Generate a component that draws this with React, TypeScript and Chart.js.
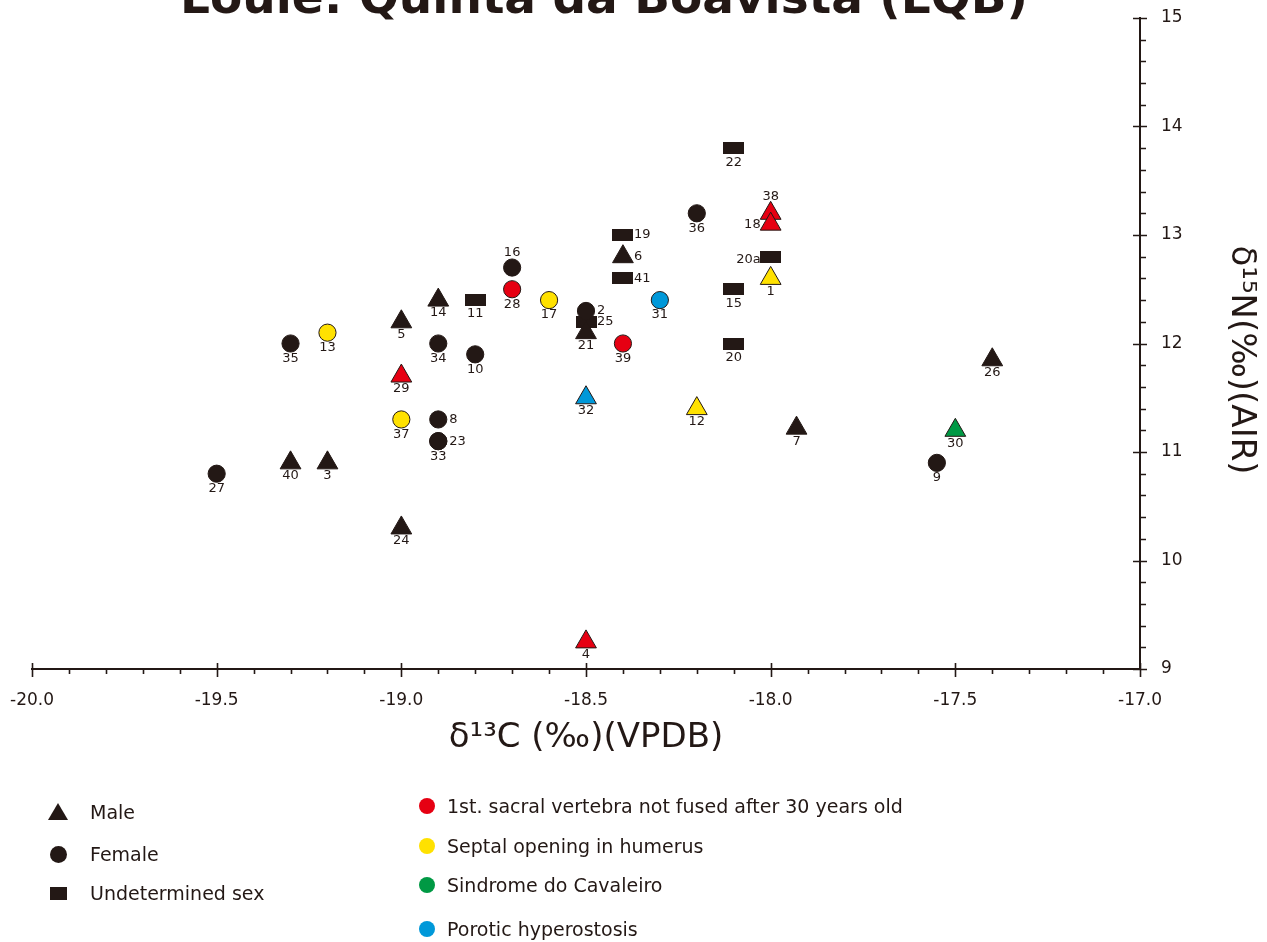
import React, { useEffect, useRef } from 'react';
import { Chart, registerables } from 'chart.js';

Chart.register(...registerables);

const INK = '#231815';
const FONT = '"DejaVu Sans", Verdana, sans-serif';

const titleText = 'Loulé: Quinta da Boavista (LQB)';
const xTitle = 'δ¹³C (‰)(VPDB)';
const yTitle = 'δ¹⁵N(‰)(AIR)';

// Individuals
const ids = ['27', '40', '3', '35', '13', '5', '29', '37', '24', '14', '34', '8', '23', '33', '11', '10', '16', '28', '17', '2', '25', '21', '4', '32', '19', '6', '41', '39', '31', '36', '12', '22', '15', '20', '38', '18', '20a', '1', '7', '9', '30', '26'];
const d13C = [-19.5, -19.3, -19.2, -19.3, -19.2, -19.0, -19.0, -19.0, -19.0, -18.9, -18.9, -18.9, -18.9, -18.9, -18.8, -18.8, -18.7, -18.7, -18.6, -18.5, -18.5, -18.5, -18.5, -18.5, -18.4, -18.4, -18.4, -18.4, -18.3, -18.2, -18.2, -18.1, -18.1, -18.1, -18.0, -18.0, -18.0, -18.0, -17.93, -17.55, -17.5, -17.4];
const d15N = [10.8, 10.9, 10.9, 12.0, 12.1, 12.2, 11.7, 11.3, 10.3, 12.4, 12.0, 11.3, 11.1, 11.1, 12.4, 11.9, 12.7, 12.5, 12.4, 12.3, 12.2, 12.1, 9.25, 11.5, 13.0, 12.8, 12.6, 12.0, 12.4, 13.2, 11.4, 13.8, 12.5, 12.0, 13.2, 13.1, 12.8, 12.6, 11.22, 10.9, 11.2, 11.85];
// M = male, F = female, U = undetermined
const sex = ['F', 'M', 'M', 'F', 'F', 'M', 'M', 'F', 'M', 'M', 'F', 'F', 'F', 'F', 'U', 'F', 'F', 'F', 'F', 'F', 'U', 'M', 'M', 'M', 'U', 'M', 'U', 'F', 'F', 'F', 'M', 'U', 'U', 'U', 'M', 'M', 'U', 'M', 'M', 'F', 'M', 'M'];
// '' none, S sacral, H humerus septal opening, C cavaleiro, P porotic hyperostosis
const condition = ['', '', '', '', 'H', '', 'S', 'H', '', '', '', '', '', '', '', '', '', 'S', 'H', '', '', '', 'S', 'P', '', '', '', 'S', 'P', '', 'H', '', '', '', 'S', 'S', '', 'H', '', '', 'C', ''];
// label side: b below, t top, r right, l left
const labelSide = ['b', 'b', 'b', 'b', 'b', 'b', 'b', 'b', 'b', 'b', 'b', 'r', 'r', 'b', 'b', 'b', 't', 'b', 'b', 'r', 'r', 'b', 'b', 'b', 'r', 'r', 'r', 'b', 'b', 'b', 'b', 'b', 'b', 'b', 't', 'l', 'l', 'b', 'b', 'b', 'b', 'b'];

const sexGroups = ['M', 'F', 'U'];
const sexNames = ['Male', 'Female', 'Undetermined sex'];
const conditionKeys = ['S', 'H', 'C', 'P'];
const conditionNames = ['1st. sacral vertebra not fused after 30 years old', 'Septal opening in humerus', 'Sindrome do Cavaleiro', 'Porotic hyperostosis'];
const conditionColors = ['#e60012', '#ffe100', '#009944', '#0098d9'];

const xMin = -20, xMax = -17, yMin = 9, yMax = 15;

function colorFor(c: string) {
  const k = conditionKeys.indexOf(c);
  return k >= 0 ? conditionColors[k] : INK;
}

function makeRectImage() {
  const c = document.createElement('canvas');
  c.width = 21;
  c.height = 12;
  const g = c.getContext('2d')!;
  g.fillStyle = INK;
  g.fillRect(0, 0, 21, 12);
  return c;
}

const decorPlugin = {
  id: 'decor',
  afterDraw(chart: any) {
    const ctx = chart.ctx;
    const xs = chart.scales.x;
    const ys = chart.scales.y;
    const { bottom, right } = chart.chartArea;
    ctx.save();
    // title (partly cut at top)
    ctx.fillStyle = INK;
    ctx.font = `bold 47px ${FONT}`;
    ctx.textAlign = 'center';
    ctx.textBaseline = 'alphabetic';
    ctx.fillText(titleText, 604, 12.5);

    // ticks
    ctx.strokeStyle = INK;
    ctx.lineWidth = 1.6;
    ctx.beginPath();
    for (let i = 0; i <= 30; i++) {
      const v = xMin + i * 0.1;
      const px = Math.round(xs.getPixelForValue(v)) + 0.5;
      if (i % 5 === 0) {
        ctx.moveTo(px, bottom - 6);
        ctx.lineTo(px, bottom + 8);
      } else {
        ctx.moveTo(px, bottom);
        ctx.lineTo(px, bottom + 5);
      }
    }
    for (let i = 0; i <= 30; i++) {
      const v = yMin + i * 0.2;
      const py = Math.round(ys.getPixelForValue(v)) + 0.5;
      if (i % 5 === 0) {
        ctx.moveTo(right - 7, py);
        ctx.lineTo(right + 7, py);
      } else {
        ctx.moveTo(right, py);
        ctx.lineTo(right + 6, py);
      }
    }
    ctx.stroke();

    // y title
    ctx.save();
    ctx.translate(1241, 360);
    ctx.rotate(Math.PI / 2);
    ctx.font = `34px ${FONT}`;
    ctx.textAlign = 'center';
    ctx.textBaseline = 'middle';
    ctx.fillText(yTitle, 0, 0);
    ctx.restore();
    ctx.restore();
  },
  afterDatasetsDraw(chart: any) {
    const ctx = chart.ctx;
    ctx.save();
    ctx.fillStyle = INK;
    ctx.font = `13px ${FONT}`;
    chart.data.datasets.forEach((ds: any, di: number) => {
      const meta = chart.getDatasetMeta(di);
      meta.data.forEach((el: any, j: number) => {
        const idx = ds.idx[j];
        const side = labelSide[idx];
        const s = sex[idx];
        let x = el.x, y = el.y;
        ctx.textBaseline = 'middle';
        if (side === 'b') {
          ctx.textAlign = 'center';
          y += s === 'M' ? 13 : s === 'F' ? 15 : 14;
        } else if (side === 't') {
          ctx.textAlign = 'center';
          y -= s === 'M' ? 17 : 15;
        } else if (side === 'r') {
          ctx.textAlign = 'left';
          x += 11;
        } else {
          ctx.textAlign = 'right';
          x -= 10;
          y += s === 'U' ? 3 : 0;
        }
        ctx.fillText(ids[idx], x, y);
      });
    });
    ctx.restore();
  },
};

export default function App() {
  const ref = useRef<HTMLCanvasElement>(null);

  useEffect(() => {
    const rectImg = makeRectImage();
    const datasets = sexGroups.map((g, gi) => {
      const idx = ids.map((_, i) => i).filter((i) => sex[i] === g);
      return {
        label: sexNames[gi],
        idx,
        data: idx.map((i) => ({ x: d13C[i], y: d15N[i] })),
        backgroundColor: idx.map((i) => colorFor(condition[i])),
        borderColor: INK,
        borderWidth: 1,
        pointStyle: g === 'M' ? 'triangle' : g === 'F' ? 'circle' : rectImg,
        pointRadius: g === 'M' ? 12 : 8.6,
        pointHoverRadius: g === 'M' ? 12 : 8.6,
      };
    });

    const chart = new Chart(ref.current!, {
      type: 'scatter',
      data: { datasets: datasets as any },
      options: {
        responsive: false,
        animation: false,
        devicePixelRatio: 1,
        layout: { padding: { left: 32, top: 18, right: 0, bottom: 0 } },
        plugins: {
          legend: { display: false },
          tooltip: { enabled: false },
          title: { display: false },
        },
        scales: {
          x: {
            type: 'linear',
            position: 'bottom',
            min: xMin,
            max: xMax,
            grid: { display: false, drawTicks: false },
            border: { display: true, color: INK, width: 2 },
            ticks: {
              stepSize: 0.5,
              autoSkip: false,
              maxRotation: 0,
              padding: 21,
              color: INK,
              font: { family: FONT, size: 17 },
              callback: (v: any) => Number(v).toFixed(1),
            },
            title: {
              display: true,
              text: xTitle,
              color: INK,
              font: { family: FONT, size: 34 },
              padding: { top: 0, bottom: 183 },
            },
            afterFit: (s: any) => {
              s.height = 942 - 669;
              s.paddingLeft = 0;
              s.paddingRight = 0;
              s.paddingTop = 0;
              s.paddingBottom = 0;
            },
          },
          y: {
            type: 'linear',
            position: 'right',
            min: yMin,
            max: yMax,
            grid: { display: false, drawTicks: false },
            border: { display: true, color: INK, width: 2 },
            ticks: {
              stepSize: 1,
              padding: 21,
              color: INK,
              font: { family: FONT, size: 17 },
            },
            afterFit: (s: any) => {
              s.width = 1267 - 1140;
              s.paddingLeft = 0;
              s.paddingRight = 0;
              s.paddingTop = 0;
              s.paddingBottom = 0;
            },
          },
        },
      },
      plugins: [decorPlugin],
    });
    return () => chart.destroy();
  }, []);

  const textStyle = (left: number, cy: number): React.CSSProperties => ({
    position: 'absolute',
    left,
    top: cy - 12,
    height: 24,
    lineHeight: '24px',
    fontFamily: FONT,
    fontSize: 19,
    color: INK,
    whiteSpace: 'nowrap',
  });

  const sexY = [812, 854, 893];
  const condY = [806, 846, 885, 929];

  return (
    <div style={{ position: 'absolute', left: 0, top: 0, width: 1267, height: 942, background: '#fff', overflow: 'hidden' }}>
      <canvas ref={ref} width={1267} height={942} style={{ display: 'block', width: 1267, height: 942 }} />
      {/* sex legend */}
      <div style={{ position: 'absolute', left: 48, top: sexY[0] - 9, width: 0, height: 0, borderLeft: '10px solid transparent', borderRight: '10px solid transparent', borderBottom: `17px solid ${INK}` }} />
      <div style={{ position: 'absolute', left: 50, top: sexY[1] - 8, width: 17, height: 17, borderRadius: '50%', background: INK }} />
      <div style={{ position: 'absolute', left: 50, top: sexY[2] - 6, width: 17, height: 13, background: INK }} />
      {sexNames.map((n, i) => (
        <div key={n} style={textStyle(90, sexY[i])}>{n}</div>
      ))}
      {conditionNames.map((n, i) => (
        <React.Fragment key={n}>
          <div style={{ position: 'absolute', left: 419, top: condY[i] - 8, width: 16, height: 16, borderRadius: '50%', background: conditionColors[i] }} />
          <div style={textStyle(447, condY[i])}>{n}</div>
        </React.Fragment>
      ))}
    </div>
  );
}
